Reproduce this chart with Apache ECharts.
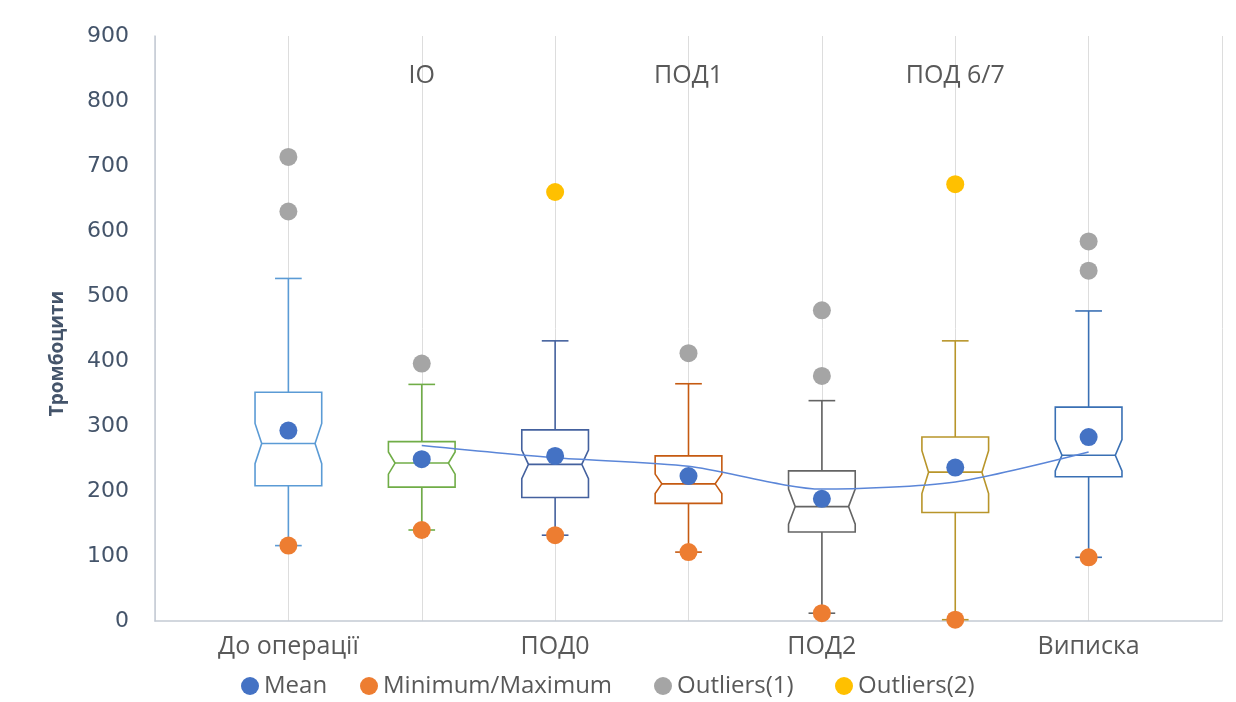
<!DOCTYPE html>
<html>
<head>
<meta charset="utf-8">
<script src="https://cdn.jsdelivr.net/npm/echarts@6/dist/echarts.min.js"></script>
<style>
  html, body { margin: 0; padding: 0; background: #ffffff; }
  #chart { width: 1236px; height: 702px; }
</style>
</head>
<body>
<div id="chart"></div>
<script>
// Platelet counts by time point: notched box plots with mean, minimum and outliers
const categories = ['До операції', 'ІО', 'ПОД0', 'ПОД1', 'ПОД2', 'ПОД 6/7', 'Виписка'];
const yTicks = [0, 100, 200, 300, 400, 500, 600, 700, 800, 900];

const q1Values      = [208, 206, 190, 181, 137, 167, 222];
const medianValues  = [273, 243, 241, 211, 176, 229, 255];
const q3Values      = [352, 276, 294, 254, 231, 283, 329];
const upperWhisker  = [527, 364, 431, 365, 339, 431, 477];
const notchHalf     = [31, 17, 22, 15, 27, 33, 24];
const meanValues    = [293, 249, 254, 223, 188, 236, 283];
const minValues     = [116, 140, 132, 106, 12, 2, 98];
const outliers1     = [[714, 630], [396], [], [412], [478, 377], [], [584, 539]];
const outliers2     = [[], [], [660], [], [], [672], []];
const trendValues   = [null, 270, 251, 238, 203, 214, 260];

const legendNames = ['Mean', 'Minimum/Maximum', 'Outliers(1)', 'Outliers(2)'];

const boxColors = ['#5B9BD5', '#70AD47', '#44619E', '#C55A11', '#646464', '#B8952A', '#3A70B4'];

const boxData = categories.map((c, i) => [
  i + 1, minValues[i], q1Values[i], medianValues[i], q3Values[i], upperWhisker[i], notchHalf[i]
]);
const meanData = meanValues.map((v, i) => [i + 1, v]);
const minData = minValues.map((v, i) => [i + 1, v]);
const out1Data = [];
outliers1.forEach((arr, i) => arr.forEach(v => out1Data.push([i + 1, v])));
const out2Data = [];
outliers2.forEach((arr, i) => arr.forEach(v => out2Data.push([i + 1, v])));
const trendData = [];
trendValues.forEach((v, i) => { if (v != null) trendData.push([i + 1, v]); });

function renderBox(params, api) {
  const x = api.value(0);
  const low = api.value(1), q1 = api.value(2), med = api.value(3), q3 = api.value(4), high = api.value(5), nh = api.value(6);
  const color = boxColors[params.dataIndex];
  const band = api.size([1, 0])[0];
  const halfW = band * 0.25;
  const capW = band * 0.1;
  const ind = halfW * 0.2;
  const cx = api.coord([x, med])[0];
  const yLow = api.coord([x, low])[1];
  const yQ1 = api.coord([x, q1])[1];
  const yMed = api.coord([x, med])[1];
  const yQ3 = api.coord([x, q3])[1];
  const yHigh = api.coord([x, high])[1];
  const yNTop = Math.max(api.coord([x, Math.min(med + nh, q3)])[1], yQ3);
  const yNBot = Math.min(api.coord([x, Math.max(med - nh, q1)])[1], yQ1);
  const L = cx - halfW, R = cx + halfW;
  const stroke = { stroke: color, lineWidth: 1.6, fill: null };
  return {
    type: 'group',
    children: [
      { type: 'line', shape: { x1: cx, y1: yQ3, x2: cx, y2: yHigh }, style: stroke },
      { type: 'line', shape: { x1: cx - capW, y1: yHigh, x2: cx + capW, y2: yHigh }, style: stroke },
      { type: 'line', shape: { x1: cx, y1: yQ1, x2: cx, y2: yLow }, style: stroke },
      { type: 'line', shape: { x1: cx - capW, y1: yLow, x2: cx + capW, y2: yLow }, style: stroke },
      {
        type: 'polygon',
        shape: { points: [[L, yQ3], [R, yQ3], [R, yNTop], [R - ind, yMed], [R, yNBot], [R, yQ1],
                          [L, yQ1], [L, yNBot], [L + ind, yMed], [L, yNTop]] },
        style: { stroke: color, lineWidth: 1.6, fill: '#ffffff' }
      },
      { type: 'line', shape: { x1: L + ind, y1: yMed, x2: R - ind, y2: yMed }, style: stroke }
    ]
  };
}

const labelFont = "'Open Sans', 'Noto Sans', sans-serif";
// one legend block per entry so each can be placed on its own
const legendLeft = [241, 360, 654, 835];
const legends = legendNames.map((n, i) => ({
  data: [n],
  left: legendLeft[i],
  top: 674,
  padding: 0,
  itemWidth: 18,
  itemHeight: 18,
  icon: 'circle',
  textStyle: { fontFamily: labelFont, fontSize: 24, color: '#595959' }
}));

const chart = echarts.init(document.getElementById('chart'), null, { renderer: 'canvas' });
chart.setOption({
  backgroundColor: '#ffffff',
  animation: false,
  grid: { left: 155, right: 14, top: 36, bottom: 81 },
  legend: legends,
  xAxis: [
    {
      type: 'value', min: 0, max: 8, interval: 1,
      axisLine: { show: true, lineStyle: { color: '#C3CAD4', width: 1.5 } },
      axisTick: { show: false },
      splitLine: { show: true, lineStyle: { color: '#DDDDDD', width: 1 } },
      axisLabel: {
        margin: 13,
        fontFamily: labelFont, fontSize: 25, color: '#595959',
        formatter: v => (v >= 1 && v <= 7 && v % 2 === 1) ? categories[v - 1] : ''
      }
    },
    {
      type: 'value', min: 0, max: 8, interval: 1, position: 'top',
      axisLine: { show: false }, axisTick: { show: false }, splitLine: { show: false },
      axisLabel: {
        inside: true, margin: 27,
        fontFamily: labelFont, fontSize: 25, color: '#595959',
        formatter: v => (v >= 1 && v <= 7 && v % 2 === 0) ? categories[v - 1] : ''
      }
    }
  ],
  yAxis: {
    type: 'value', min: yTicks[0], max: yTicks[yTicks.length - 1], interval: 100,
    name: 'Тромбоцити', nameLocation: 'middle', nameGap: 88,
    nameTextStyle: { fontFamily: labelFont, fontSize: 19, fontWeight: 'bold', color: '#44546A',
                     padding: [0, 50, 0, 0] },
    axisLine: { show: true, lineStyle: { color: '#C3CAD4', width: 1.5 } },
    axisTick: { show: false },
    splitLine: { show: false },
    axisLabel: { margin: 26, fontFamily: "'DejaVu Sans', sans-serif", fontSize: 22, color: '#44546A' }
  },
  series: [
    {
      type: 'custom', name: 'box', renderItem: renderBox, data: boxData, z: 2,
      encode: { x: 0, y: [1, 2, 3, 4, 5] }
    },
    {
      type: 'line', name: 'trend', data: trendData, smooth: 0.25, showSymbol: false, z: 3,
      lineStyle: { color: '#5B86D8', width: 1.5 }
    },
    {
      type: 'scatter', name: 'Minimum/Maximum', data: minData, symbolSize: 18, z: 4,
      itemStyle: { color: '#ED7D31', opacity: 1 }
    },
    {
      type: 'scatter', name: 'Mean', data: meanData, symbolSize: 18, z: 4,
      itemStyle: { color: '#4472C4', opacity: 1 }
    },
    {
      type: 'scatter', name: 'Outliers(1)', data: out1Data, symbolSize: 18, z: 4,
      itemStyle: { color: '#A5A5A5', opacity: 1 }
    },
    {
      type: 'scatter', name: 'Outliers(2)', data: out2Data, symbolSize: 18, z: 4,
      itemStyle: { color: '#FFC000', opacity: 1 }
    }
  ]
});
</script>
</body>
</html>
